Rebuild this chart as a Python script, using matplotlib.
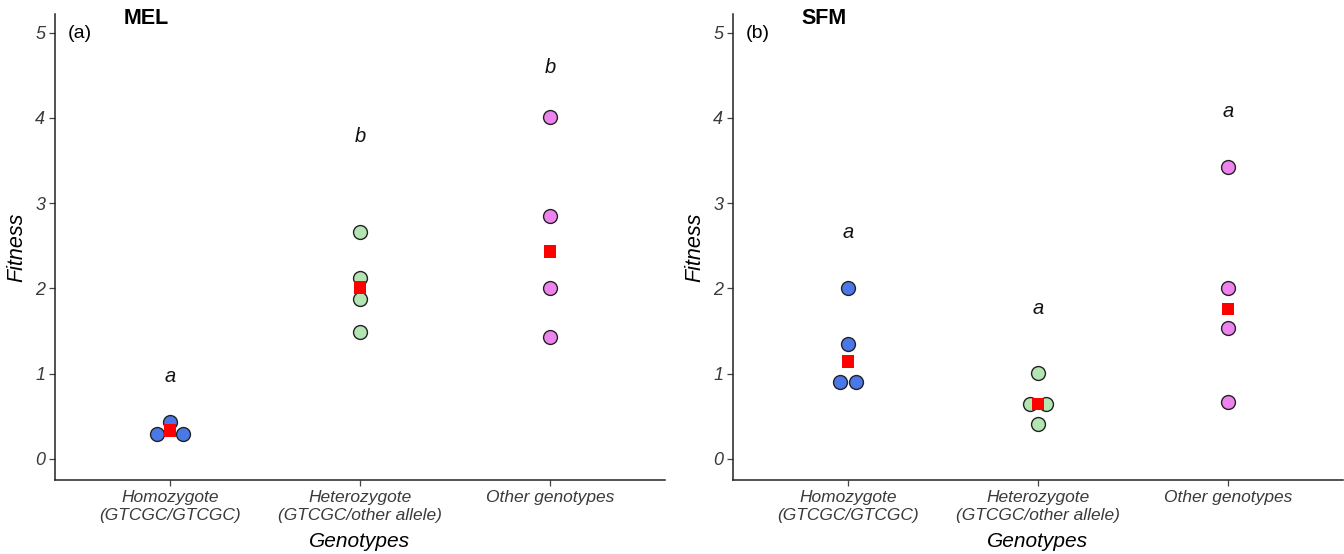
import matplotlib
matplotlib.use("Agg")
import matplotlib.pyplot as plt
import numpy as np

plt.rcParams['font.family'] = ['Liberation Sans', 'DejaVu Sans']

categories = ["Homozygote\n(GTCGC/GTCGC)", "Heterozygote\n(GTCGC/other allele)", "Other genotypes"]
colors = ["#4B78E8", "#B2E5B2", "#EE82EE"]

# Panel (a) MEL
mel_hom = [0.29, 0.43, 0.29]
mel_het = [2.66, 2.12, 1.88, 1.49]
mel_oth = [4.01, 2.85, 2.00, 1.43]
mel_means = [0.33, 2.01, 2.43]
mel_letters = ["a", "b", "b"]
mel_letter_y = [0.97, 3.78, 4.59]
# horizontal dodge offsets for overlapping points (in category units)
mel_offsets = [[-0.068, 0.0, 0.068], [0, 0, 0, 0], [0, 0, 0, 0]]

# Panel (b) SFM
sfm_hom = [2.00, 1.35, 0.90, 0.90]
sfm_het = [1.01, 0.645, 0.645, 0.41]
sfm_oth = [3.42, 2.00, 1.53, 0.67]
sfm_means = [1.14, 0.645, 1.76]
sfm_letters = ["a", "a", "a"]
sfm_letter_y = [2.66, 1.76, 4.07]
sfm_offsets = [[0, 0, -0.04, 0.04], [0, -0.043, 0.043, 0], [0, 0, 0, 0]]

fig = plt.figure(figsize=(13.44, 5.54), dpi=100)
ax_a = fig.add_axes([55/1344, 74/554, 610/1344, 466/554])
ax_b = fig.add_axes([733/1344, 74/554, 610/1344, 466/554])

panels = [
    (ax_a, [mel_hom, mel_het, mel_oth], mel_means, mel_letters, mel_letter_y, mel_offsets, "(a)", "MEL"),
    (ax_b, [sfm_hom, sfm_het, sfm_oth], sfm_means, sfm_letters, sfm_letter_y, sfm_offsets, "(b)", "SFM"),
]

for ax, groups, means, letters, lety, offsets, tag, title in panels:
    for i, (vals, offs) in enumerate(zip(groups, offsets)):
        xs = np.full(len(vals), i + 1.0) + np.array(offs)
        ax.scatter(xs, vals, s=100, c=colors[i], edgecolors="#222222", linewidths=1.0, zorder=3)
    ax.scatter(np.arange(1, 4), means, marker="s", s=80, c="red", edgecolors="none", zorder=4)
    for i, (l, y) in enumerate(zip(letters, lety)):
        ax.text(i + 1, y, l, ha="center", va="center", fontsize=14.5, style="italic", color="#111111")
    ax.set_xlim(0.395, 3.605)
    ax.set_ylim(-0.25, 5.22)
    ax.set_xticks([1, 2, 3])
    ax.set_xticklabels(categories, fontsize=12.5, style="italic", color="#3a3a3a", linespacing=1.3)
    ax.set_yticks([0, 1, 2, 3, 4, 5])
    ax.set_yticklabels(["0", "1", "2", "3", "4", "5"], fontsize=13, style="italic", color="#3a3a3a")
    for s in ["top", "right"]:
        ax.spines[s].set_visible(False)
    for s in ["left", "bottom"]:
        ax.spines[s].set_linewidth(1.1)
        ax.spines[s].set_color("#222222")
    ax.tick_params(axis="both", direction="out", length=4, width=0.9, color="#444444", pad=3)
    ax.set_ylabel("Fitness", fontsize=15.5, style="italic", labelpad=6)
    ax.set_xlabel("Genotypes", fontsize=15, style="italic", labelpad=6)
    ax.text(0.021, 0.959, tag, transform=ax.transAxes, fontsize=14, ha="left", va="center")
    ax.text(0.150, 0.99, title, transform=ax.transAxes, fontsize=15.5, fontweight="bold", ha="center", va="center")

fig.savefig("out.png", dpi=100)
